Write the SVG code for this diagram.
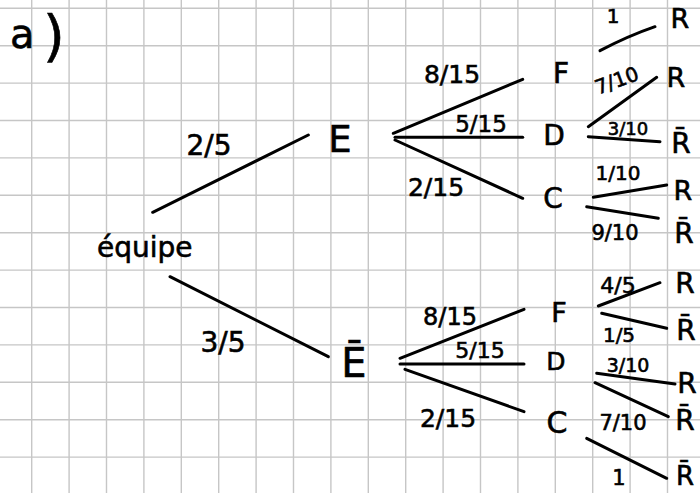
<svg xmlns="http://www.w3.org/2000/svg" width="700" height="493" viewBox="0 0 700 493">
  <style>
    .grid { stroke: #c6c6c6; stroke-width: 1.4; fill: none; }
    .edge { stroke: #000; stroke-width: 3; stroke-linecap: round; fill: none; }
    text { font-family: "DejaVu Sans", "Liberation Sans", sans-serif; fill: #000; stroke: #000; stroke-width: 0.6; }
    .node { text-anchor: middle; }
    .prob { text-anchor: middle; }
  </style>

  <rect width="700" height="493" fill="#fff"/>

  <!-- squared paper -->
  <path class="grid" d="M31.7 0V493M69.1 0V493M106.5 0V493M143.9 0V493M181.3 0V493M218.7 0V493M256.1 0V493M293.5 0V493M330.9 0V493M368.3 0V493M405.7 0V493M443.1 0V493M480.5 0V493M517.9 0V493M555.3 0V493M592.7 0V493M630.1 0V493M667.5 0V493
    M0 8.3H700M0 45.7H700M0 83.1H700M0 120.5H700M0 157.9H700M0 195.3H700M0 232.7H700M0 270.1H700M0 307.5H700M0 344.9H700M0 382.3H700M0 419.7H700M0 457.1H700"/>

  <!-- question number -->
  <text x="10" y="48" font-size="40">a</text>
  <text x="43" y="55" font-size="56">)</text>

  <!-- branches and their probabilities -->
  <g id="connectors">
    <line class="edge" x1="152.7" y1="212.3" x2="308.3" y2="135"/>
    <line class="edge" x1="170" y1="276.7" x2="328.3" y2="356.7"/>
    <text class="prob" x="209" y="155" font-size="28">2/5</text>
    <text class="prob" x="223" y="352" font-size="28">3/5</text>

    <!-- E subtree -->
    <line class="edge" x1="393.3" y1="133.3" x2="522.7" y2="79.3"/>
    <line class="edge" x1="395" y1="137.3" x2="522.7" y2="137.3"/>
    <line class="edge" x1="395" y1="140" x2="522.7" y2="198.3"/>
    <text class="prob" x="452" y="83" font-size="25">8/15</text>
    <text class="prob" x="481" y="132" font-size="23">5/15</text>
    <text class="prob" x="436" y="196" font-size="25">2/15</text>

    <path class="edge" d="M600 50.7Q628 36 655 26.7"/>
    <line class="edge" x1="588.3" y1="126.7" x2="656.7" y2="77.3"/>
    <line class="edge" x1="588.3" y1="136.7" x2="660" y2="141.7"/>
    <line class="edge" x1="593.3" y1="197.3" x2="666.7" y2="185"/>
    <line class="edge" x1="586.7" y1="206.7" x2="658.3" y2="218.3"/>
    <text class="prob" x="613" y="23" font-size="20">1</text>
    <text class="prob" transform="translate(619 87) rotate(-20)" font-size="20">7/10</text>
    <text class="prob" x="628" y="135" font-size="18">3/10</text>
    <text class="prob" x="618" y="180" font-size="20">1/10</text>
    <text class="prob" x="615" y="240" font-size="21">9/10</text>

    <!-- Ē subtree -->
    <line class="edge" x1="400" y1="358.3" x2="524" y2="309.3"/>
    <line class="edge" x1="400" y1="364" x2="524" y2="364"/>
    <line class="edge" x1="405" y1="369.3" x2="524" y2="411.7"/>
    <text class="prob" x="450" y="325" font-size="24">8/15</text>
    <text class="prob" x="480" y="358" font-size="22">5/15</text>
    <text class="prob" x="448" y="427" font-size="25">2/15</text>

    <line class="edge" x1="598.3" y1="306" x2="660" y2="282.7"/>
    <line class="edge" x1="601.7" y1="313.3" x2="666.7" y2="328.3"/>
    <line class="edge" x1="596.7" y1="373.3" x2="675" y2="384"/>
    <line class="edge" x1="595" y1="382.7" x2="668.3" y2="416.7"/>
    <line class="edge" x1="586.7" y1="438.3" x2="666.7" y2="478.3"/>
    <text class="prob" x="618" y="293" font-size="22">4/5</text>
    <text class="prob" x="619" y="342" font-size="20">1/5</text>
    <text class="prob" x="628" y="372" font-size="19">3/10</text>
    <text class="prob" x="623" y="430" font-size="21">7/10</text>
    <text class="prob" x="619" y="485" font-size="21">1</text>
  </g>

  <!-- tree nodes -->
  <g id="root"><text x="97" y="257" font-size="28">équipe</text></g>
  <g id="E"><text class="node" x="340" y="152" font-size="37">E</text></g>
  <g id="E-bar"><text class="node" x="354" y="377" font-size="40">Ē</text></g>

  <g id="E-F"><text class="node" x="561" y="83" font-size="28">F</text></g>
  <g id="E-D"><text class="node" x="554" y="145" font-size="28">D</text></g>
  <g id="E-C"><text class="node" x="553" y="208" font-size="28">C</text></g>
  <g id="Ebar-F"><text class="node" x="559" y="322" font-size="27">F</text></g>
  <g id="Ebar-D"><text class="node" x="556" y="370" font-size="25">D</text></g>
  <g id="Ebar-C"><text class="node" x="557" y="433" font-size="30">C</text></g>

  <g id="E-F-R"><text class="node" x="680" y="28" font-size="27">R</text></g>
  <g id="E-D-R"><text class="node" x="676" y="87" font-size="27">R</text></g>
  <g id="E-D-Rbar"><text class="node" x="681" y="153" font-size="28">R̄</text></g>
  <g id="E-C-R"><text class="node" x="683" y="200" font-size="27">R</text></g>
  <g id="E-C-Rbar"><text class="node" x="684" y="243" font-size="28">R̄</text></g>
  <g id="Ebar-F-R"><text class="node" x="685" y="293" font-size="28">R</text></g>
  <g id="Ebar-F-Rbar"><text class="node" x="686" y="340" font-size="28">R̄</text></g>
  <g id="Ebar-D-R"><text class="node" x="687" y="393" font-size="28">R</text></g>
  <g id="Ebar-D-Rbar"><text class="node" x="685" y="430" font-size="28">R̄</text></g>
  <g id="Ebar-C-Rbar"><text class="node" x="685" y="485" font-size="26">R̄</text></g>
</svg>
